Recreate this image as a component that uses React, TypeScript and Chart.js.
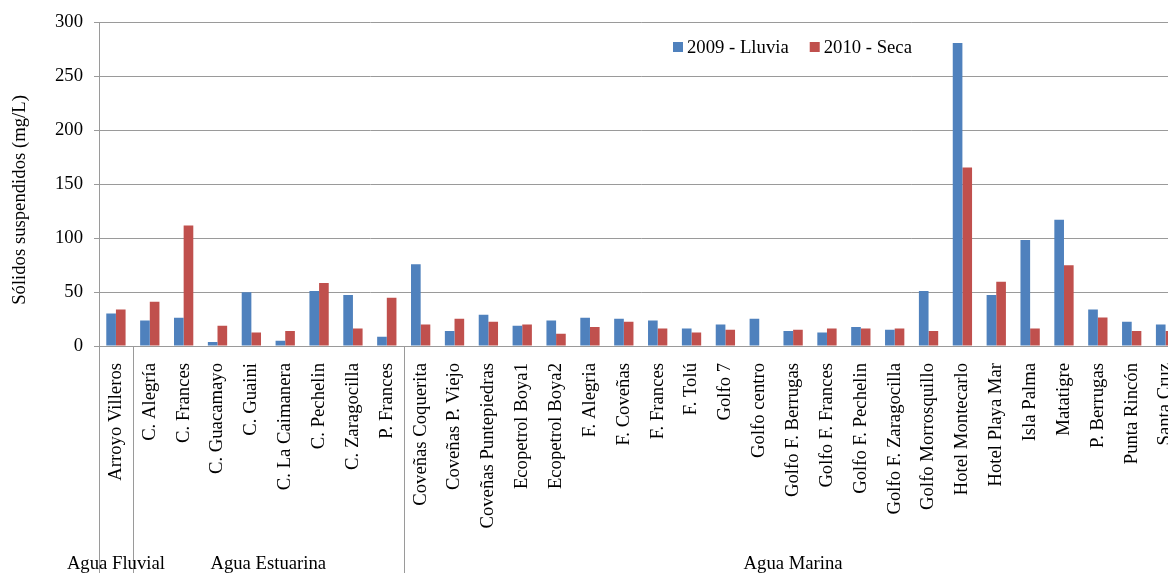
import React, { useEffect, useRef } from "react";
import { Chart, registerables } from "chart.js";

Chart.register(...registerables);

const categories = [
  "Arroyo Villeros",
  "C. Alegría", "C. Frances", "C. Guacamayo", "C. Guaini", "C. La Caimanera",
  "C. Pechelin", "C. Zaragocilla", "P. Frances",
  "Coveñas Coquerita", "Coveñas P. Viejo", "Coveñas Puntepiedras", "Ecopetrol Boya1",
  "Ecopetrol Boya2", "F. Alegria", "F. Coveñas", "F. Frances", "F. Tolú", "Golfo 7",
  "Golfo centro", "Golfo F. Berrugas", "Golfo F. Frances", "Golfo F. Pechelin",
  "Golfo F. Zaragocilla", "Golfo Morrosquillo", "Hotel Montecarlo", "Hotel Playa Mar",
  "Isla Palma", "Matatigre", "P. Berrugas", "Punta Rincón", "Santa Cruz",
];

const groupLabels = ["Agua Fluvial", "Agua Estuarina", "Agua Marina"];
const groupSizes = [1, 8, 23];

const lluvia2009 = [
  30.1, 23.7, 26.1, 3.7, 49.7, 4.9, 51.0, 47.3, 8.6, 75.8, 13.8, 28.9, 18.8, 23.7, 26.1,
  25.2, 23.7, 16.3, 20.0, 25.2, 13.8, 12.6, 17.5, 15.1, 51.0, 280.7, 47.3, 98.2, 116.9,
  33.8, 22.4, 20.0,
];
const seca2010 = [
  33.8, 41.1, 111.7, 18.8, 12.6, 13.8, 58.3, 16.3, 44.8, 20.0, 25.2, 22.4, 20.0, 11.4, 17.5,
  22.4, 16.3, 12.6, 15.1, null, 15.1, 16.3, 16.3, 16.3, 13.8, 165.4, 59.5, 16.3, 74.9,
  26.4, 13.8, 13.8,
];

const seriesNames = ["2009 - Lluvia", "2010 - Seca"];
const seriesColors = ["#4F81BD", "#C0504D"];
const yTitle = "Sólidos suspendidos (mg/L)";
const yMin = 0;
const yMax = 300;
const yStep = 50;

const FONT_FAMILY = "'Liberation Serif', 'Times New Roman', serif";
const FONT_SIZE = 18.7;
const CANVAS_W = 1205;
const CANVAS_H = 600;
const GRID = "#9a9a9a";

const extrasPlugin = {
  id: "extras",
  afterDraw(chart: any) {
    const { ctx, chartArea, scales } = chart;
    const xs = scales.x;
    const font = `${FONT_SIZE}px ${FONT_FAMILY}`;
    ctx.save();
    ctx.font = font;
    ctx.fillStyle = "#000";

    // y title
    ctx.save();
    ctx.translate(20, 200);
    ctx.rotate(-Math.PI / 2);
    ctx.textAlign = "center";
    ctx.textBaseline = "middle";
    ctx.fillText(yTitle, 0, 0);
    ctx.restore();

    // legend
    let lx = 673;
    const ly = 47;
    ctx.textAlign = "left";
    ctx.textBaseline = "middle";
    seriesNames.forEach((name, i) => {
      ctx.fillStyle = seriesColors[i];
      ctx.fillRect(lx, ly - 5, 10, 10);
      ctx.fillStyle = "#000";
      ctx.fillText(name, lx + 14, ly + 1);
      lx += 14 + ctx.measureText(name).width + 21;
    });

    // group separators and labels
    const w = xs.getPixelForValue(1) - xs.getPixelForValue(0);
    let start = 0;
    const bounds: number[] = [xs.getPixelForValue(0) - w / 2];
    groupSizes.forEach((n) => {
      start += n;
      bounds.push(xs.getPixelForValue(start - 1) + w / 2);
    });
    ctx.strokeStyle = GRID;
    ctx.lineWidth = 1;
    bounds.forEach((bx) => {
      const px = Math.round(bx) + 0.5;
      ctx.beginPath();
      ctx.moveTo(px, chartArea.bottom);
      ctx.lineTo(px, CANVAS_H);
      ctx.stroke();
    });
    ctx.textAlign = "center";
    ctx.textBaseline = "alphabetic";
    ctx.fillStyle = "#000";
    groupLabels.forEach((g, i) => {
      const cx = (bounds[i] + bounds[i + 1]) / 2;
      ctx.fillText(g, cx, 569);
    });
    ctx.restore();
  },
};

export default function App() {
  const ref = useRef<HTMLCanvasElement | null>(null);

  useEffect(() => {
    if (!ref.current) return;
    const font = { family: FONT_FAMILY, size: FONT_SIZE };
    const chart = new Chart(ref.current, {
      type: "bar",
      data: {
        labels: categories,
        datasets: [
          {
            label: seriesNames[0],
            data: lluvia2009,
            backgroundColor: seriesColors[0],
            barPercentage: 1,
            categoryPercentage: 0.57,
          },
          {
            label: seriesNames[1],
            data: seca2010,
            backgroundColor: seriesColors[1],
            barPercentage: 1,
            categoryPercentage: 0.57,
          },
        ],
      },
      options: {
        responsive: false,
        animation: false,
        devicePixelRatio: 1,
        layout: { padding: { top: 20, right: 0, left: 0, bottom: 0 } },
        plugins: {
          legend: { display: false },
          tooltip: { enabled: false },
        },
        scales: {
          x: {
            grid: { display: false, drawTicks: false },
            border: { display: true, color: GRID },
            ticks: {
              font,
              color: "#000",
              maxRotation: 90,
              minRotation: 90,
              autoSkip: false,
              padding: 17,
            },
            afterFit: (s: any) => {
              s.height = CANVAS_H - 346;
            },
          },
          y: {
            min: yMin,
            max: yMax,
            grid: { color: GRID, tickLength: 5, drawTicks: true },
            border: { display: true, color: GRID },
            ticks: { stepSize: yStep, font, color: "#000", padding: 11 },
            afterFit: (s: any) => {
              s.width = 99;
            },
          },
        },
      },
      plugins: [extrasPlugin],
    });
    return () => chart.destroy();
  }, []);

  return (
    <div
      style={{
        position: "fixed",
        left: 0,
        top: 0,
        width: 1168,
        height: 573,
        overflow: "hidden",
        background: "#fff",
      }}
    >
      <canvas ref={ref} width={CANVAS_W} height={CANVAS_H} style={{ display: "block" }} />
    </div>
  );
}
